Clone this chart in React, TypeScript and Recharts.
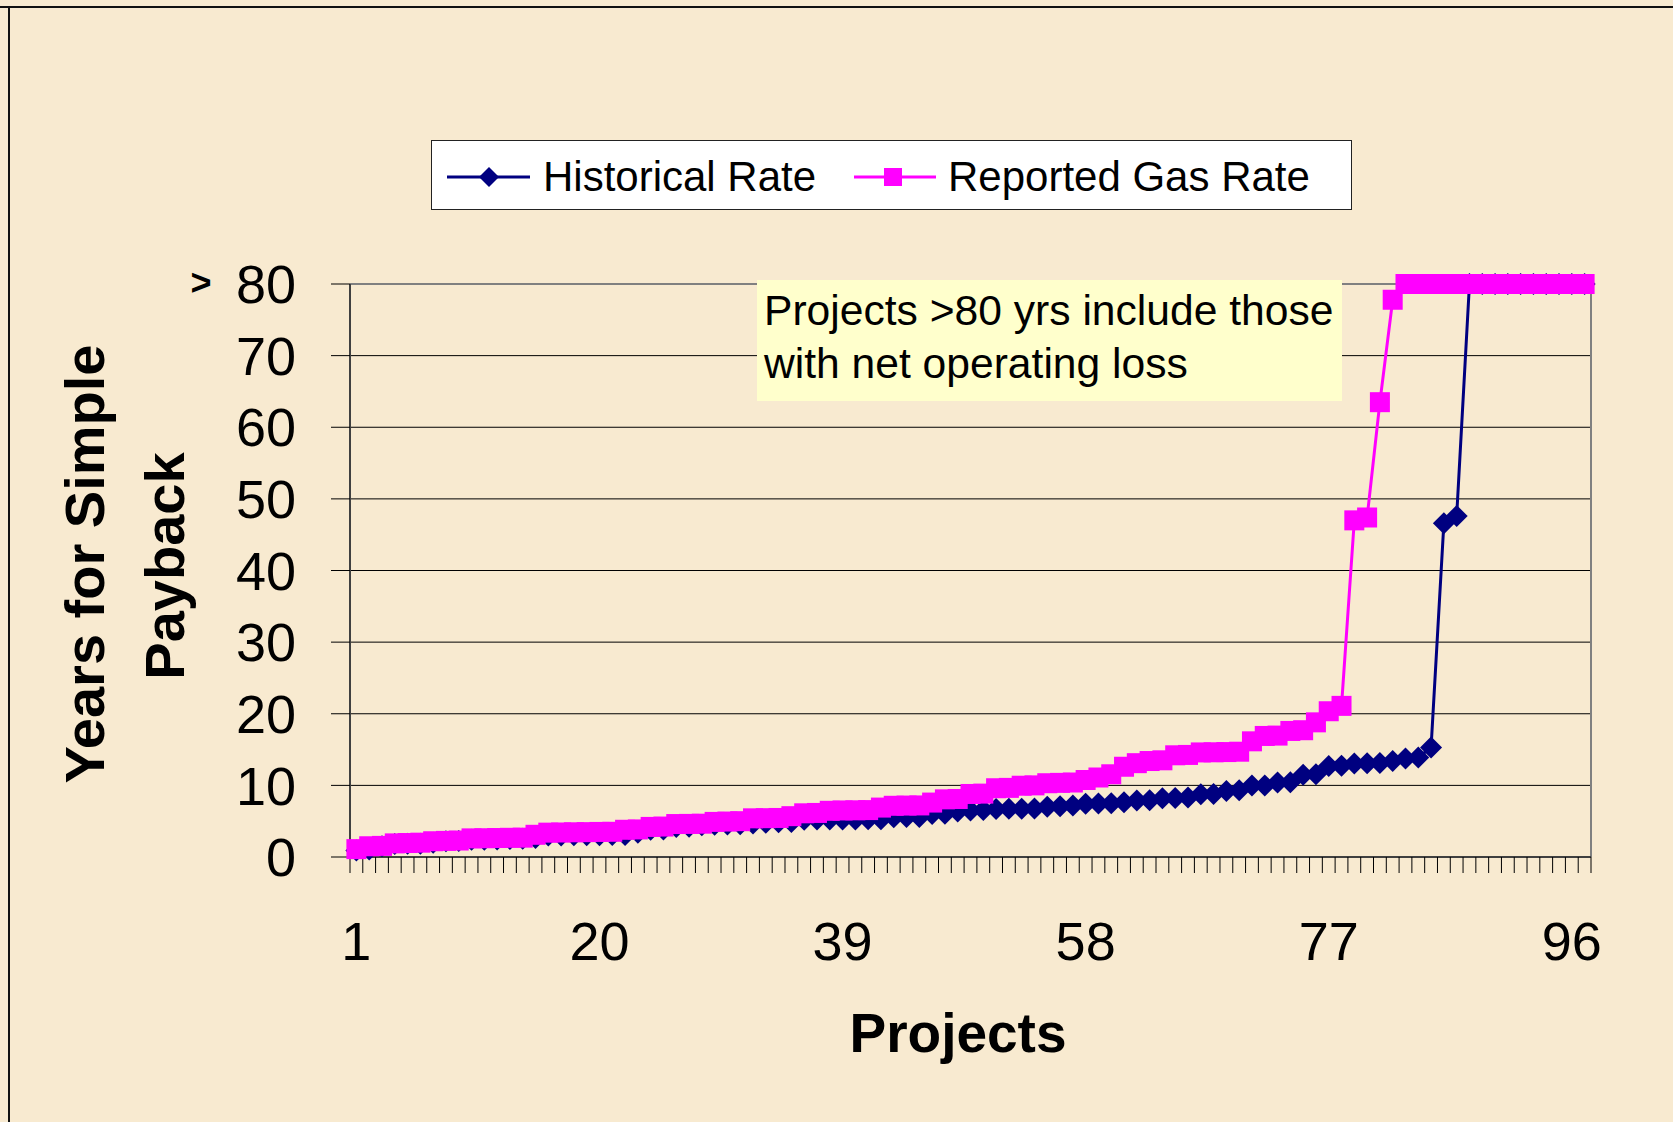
import { LineChart, Line, XAxis, YAxis, CartesianGrid, ReferenceLine } from 'recharts'

// project index (sorted by payback), 1..97
const projects = [
  1, 2, 3, 4, 5, 6, 7, 8, 9, 10, 11, 12, 13, 14, 15, 16, 17, 18, 19, 20,
  21, 22, 23, 24, 25, 26, 27, 28, 29, 30, 31, 32, 33, 34, 35, 36, 37, 38, 39, 40,
  41, 42, 43, 44, 45, 46, 47, 48, 49, 50, 51, 52, 53, 54, 55, 56, 57, 58, 59, 60,
  61, 62, 63, 64, 65, 66, 67, 68, 69, 70, 71, 72, 73, 74, 75, 76, 77, 78, 79, 80,
  81, 82, 83, 84, 85, 86, 87, 88, 89, 90, 91, 92, 93, 94, 95, 96, 97,
]

// years for simple payback (>80 shown as 80)
const historicalRate = [
  0.9, 1.05, 1.5, 1.8, 1.84, 1.86, 2.0, 2.2, 2.22, 2.4,
  2.42, 2.45, 2.5, 2.55, 2.65, 3.0, 3.0, 3.02, 3.03, 3.05,
  3.06, 3.08, 3.37, 3.8, 3.85, 4.2, 4.22, 4.45, 4.5, 4.55,
  4.58, 4.68, 4.77, 4.85, 4.87, 5.2, 5.22, 5.23, 5.24, 5.25,
  5.26, 5.28, 5.55, 5.57, 5.6, 6.0, 6.05, 6.35, 6.5, 6.55,
  6.7, 6.72, 6.74, 6.76, 7.0, 7.1, 7.2, 7.45, 7.47, 7.5,
  7.65, 7.9, 7.92, 8.2, 8.25, 8.3, 8.77, 8.8, 9.2, 9.33,
  9.98, 10.0, 10.4, 10.45, 11.5, 11.55, 12.7, 12.75, 13.05, 13.1,
  13.12, 13.42, 13.75, 13.9, 15.3, 46.6, 47.6, 80, 80, 80,
  80, 80, 80, 80, 80, 80, 80,
]

const reportedGasRate = [
  1.1, 1.5, 1.55, 1.9, 1.95, 2.0, 2.2, 2.25, 2.3, 2.6,
  2.62, 2.65, 2.68, 2.7, 3.1, 3.4, 3.42, 3.45, 3.47, 3.5,
  3.52, 3.8, 3.85, 4.2, 4.25, 4.6, 4.62, 4.65, 4.9, 4.95,
  5.0, 5.4, 5.42, 5.45, 5.7, 6.1, 6.15, 6.45, 6.5, 6.52,
  6.55, 6.9, 7.15, 7.18, 7.2, 7.6, 8.05, 8.1, 8.8, 8.85,
  9.6, 9.65, 9.95, 10.0, 10.3, 10.35, 10.4, 10.75, 11.1, 11.55,
  12.6, 13.1, 13.4, 13.5, 14.2, 14.25, 14.6, 14.62, 14.65, 14.7,
  16.15, 16.9, 16.95, 17.6, 17.7, 18.8, 20.35, 21.1, 47.0, 47.4,
  63.5, 77.8, 80, 80, 80, 80, 80, 80, 80, 80,
  80, 80, 80, 80, 80, 80, 80,
]

const xLabels = [1, 20, 39, 58, 77, 96]
const yTicks = [0, 10, 20, 30, 40, 50, 60, 70, 80]

const NAVY = '#000080'
const MAGENTA = '#ff00ff'
const FONT = '"Liberation Sans", Arial, sans-serif'

const data = projects.map((p, i) => ({
  project: p,
  historical: historicalRate[i],
  reported: reportedGasRate[i],
}))

// tick marks sit between categories, like the original category axis
const boundaryTicks = [...projects.map((p) => p - 0.5), projects[projects.length - 1] + 0.5]

const Diamond = (props: any) => {
  const { cx, cy, index } = props
  if (cx == null || cy == null) return <g key={index} />
  const r = 11
  return (
    <polygon
      key={index}
      points={`${cx},${cy - r} ${cx + r},${cy} ${cx},${cy + r} ${cx - r},${cy}`}
      fill={NAVY}
    />
  )
}

const Square = (props: any) => {
  const { cx, cy, index } = props
  if (cx == null || cy == null) return <g key={index} />
  return <rect key={index} x={cx - 10} y={cy - 10} width={20} height={20} fill={MAGENTA} />
}

export default function App() {
  return (
    <div
      style={{
        position: 'absolute',
        left: 0,
        top: 0,
        width: 1673,
        height: 1122,
        overflow: 'hidden',
        background: '#f8ead0',
        fontFamily: FONT,
      }}
    >
      {/* slide frame */}
      <div style={{ position: 'absolute', left: 0, top: 6, width: 1673, height: 2, background: '#111' }} />
      <div style={{ position: 'absolute', left: 8, top: 6, width: 2, height: 1122, background: '#111' }} />

      <LineChart
        width={1673}
        height={1122}
        data={data}
        margin={{ top: 284, right: 82, left: 0, bottom: 145 }}
        style={{ position: 'absolute', left: 0, top: 0 }}
      >
        <CartesianGrid xAxisId="a" vertical={false} stroke="#000" strokeWidth={1} />
        <XAxis
          xAxisId="b"
          dataKey="project"
          type="number"
          domain={[0.5, 97.5]}
          ticks={xLabels}
          interval={0}
          height={100}
          axisLine={false}
          tickLine={false}
          tickSize={0}
          tickMargin={45}
          tick={{ fontSize: 54, fill: '#000', fontFamily: FONT }}
        />
        <XAxis
          xAxisId="a"
          dataKey="project"
          type="number"
          domain={[0.5, 97.5]}
          ticks={boundaryTicks}
          interval={0}
          height={20}
          tick={() => <g />}
          tickSize={16}
          tickLine={{ stroke: '#000', strokeWidth: 1 }}
          axisLine={{ stroke: '#404040', strokeWidth: 2 }}
        />
        <YAxis
          type="number"
          domain={[0, 80]}
          ticks={yTicks}
          interval={0}
          width={350}
          tickSize={19}
          tickMargin={35}
          tickLine={{ stroke: '#000', strokeWidth: 1 }}
          axisLine={{ stroke: '#404040', strokeWidth: 2 }}
          tick={{ fontSize: 54, fill: '#000', fontFamily: FONT }}
        />
        <ReferenceLine xAxisId="a" y={80} stroke="#808080" strokeWidth={2} />
        <ReferenceLine xAxisId="a" x={97.5} stroke="#808080" strokeWidth={2} />
        <Line
          xAxisId="a"
          type="linear"
          dataKey="historical"
          name="Historical Rate"
          stroke={NAVY}
          strokeWidth={3}
          dot={Diamond}
          activeDot={false}
          isAnimationActive={false}
        />
        <Line
          xAxisId="a"
          type="linear"
          dataKey="reported"
          name="Reported Gas Rate"
          stroke={MAGENTA}
          strokeWidth={3}
          dot={Square}
          activeDot={false}
          isAnimationActive={false}
        />
      </LineChart>

      {/* legend */}
      <div
        style={{
          position: 'absolute',
          left: 431,
          top: 140,
          width: 919,
          height: 68,
          background: '#fff',
          border: '1px solid #222',
          fontSize: 42,
          color: '#000',
        }}
      >
        <svg width={919} height={68} style={{ position: 'absolute', left: 0, top: 0 }}>
          <line x1={15} y1={36} x2={98} y2={36} stroke={NAVY} strokeWidth={3} />
          <polygon points="57,26 67,36 57,46 47,36" fill={NAVY} />
          <line x1={422} y1={36} x2={504} y2={36} stroke={MAGENTA} strokeWidth={3} />
          <rect x={452} y={27} width={18} height={18} fill={MAGENTA} />
        </svg>
        <span style={{ position: 'absolute', left: 111, top: 2, lineHeight: '68px', whiteSpace: 'nowrap' }}>
          Historical Rate
        </span>
        <span style={{ position: 'absolute', left: 516, top: 2, lineHeight: '68px', whiteSpace: 'nowrap' }}>
          Reported Gas Rate
        </span>
      </div>

      {/* note */}
      <div
        style={{
          position: 'absolute',
          left: 757,
          top: 280,
          width: 585,
          height: 121,
          background: '#ffffcc',
          boxSizing: 'border-box',
          padding: '4px 0 0 7px',
          fontSize: 42.6,
          lineHeight: '53px',
          color: '#000',
          whiteSpace: 'nowrap',
        }}
      >
        Projects &gt;80 yrs include those
        <br />
        with net operating loss
      </div>

      {/* "greater than" marker on the 80 tick */}
      <div
        style={{
          position: 'absolute',
          left: 201,
          top: 283,
          transform: 'translate(-50%, -50%)',
          fontSize: 36,
          fontWeight: 'bold',
          lineHeight: 1,
        }}
      >
        &gt;
      </div>

      {/* y title */}
      <div
        style={{
          position: 'absolute',
          left: 85,
          top: 564,
          transform: 'translate(-50%, -50%) rotate(-90deg)',
          fontSize: 56,
          fontWeight: 'bold',
          lineHeight: 1,
          whiteSpace: 'nowrap',
        }}
      >
        Years for Simple
      </div>
      <div
        style={{
          position: 'absolute',
          left: 165,
          top: 566,
          transform: 'translate(-50%, -50%) rotate(-90deg)',
          fontSize: 56,
          fontWeight: 'bold',
          lineHeight: 1,
          whiteSpace: 'nowrap',
        }}
      >
        Payback
      </div>

      {/* x title */}
      <div
        style={{
          position: 'absolute',
          left: 958,
          top: 1033,
          transform: 'translate(-50%, -50%)',
          fontSize: 55,
          fontWeight: 'bold',
          lineHeight: 1,
          whiteSpace: 'nowrap',
        }}
      >
        Projects
      </div>
    </div>
  )
}
